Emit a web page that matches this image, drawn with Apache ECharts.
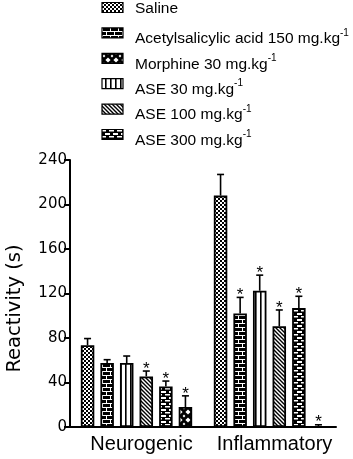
<!DOCTYPE html>
<html>
<head>
<meta charset="utf-8">
<script src="https://cdn.jsdelivr.net/npm/echarts@6/dist/echarts.min.js"></script>
<style>
  html, body { margin: 0; padding: 0; background: #fff; }
  #chart { width: 353px; height: 459px; }
</style>
</head>
<body>
<div id="chart"></div>
<script>
// Reactivity bars, neurogenic vs inflammatory phase; upper SEM bars + "*" for significance.
const CATEGORIES = ["Neurogenic", "Inflammatory"];
const GROUPS = ["Saline", "Acetylsalicylic acid 150 mg.kg", "ASE 30 mg.kg", "ASE 100 mg.kg", "ASE 300 mg.kg", "Morphine 30 mg.kg"];
const SUPS = ["", "-1", "-1", "-1", "-1", "-1"];
const PATTERNS = ["check", "brick", "vlines", "diag", "hbrick", "cross"];
const MEANS = [
  [73.5, 208],
  [57.5, 102],
  [57.5, 122.5],
  [45.5, 90.5],
  [36.5, 107],
  [18, 0],
];
const SEMS = [
  [6, 19],
  [3, 14.5],
  [6.3, 14],
  [4.8, 14.7],
  [4.8, 10.5],
  [10, 2],
];
const SIG = [
  [0, 0],
  [0, 1],
  [0, 1],
  [1, 1],
  [1, 1],
  [1, 1],
];
const LEGEND_ORDER = [0, 1, 5, 2, 3, 4];
const Y_MIN = 0, Y_MAX = 240, Y_STEP = 40;

const BAR_W = 13.5, BAR_GAP = 0.45; // gap as fraction of bar width
const AX_FONT = "DejaVu Sans", LG_FONT = "Liberation Sans";

function tile(kind) {
  const c = document.createElement("canvas");
  const sz = { check: [4, 4], brick: [8, 8], vlines: [5, 4], diag: [4, 4], hbrick: [8, 6], cross: [8, 8] }[kind];
  c.width = sz[0]; c.height = sz[1];
  const g = c.getContext("2d");
  const W = c.width, H = c.height;
  if (kind === "check") {
    g.fillStyle = "#fff"; g.fillRect(0, 0, W, H);
    g.fillStyle = "#000"; g.fillRect(0, 0, 2, 2); g.fillRect(2, 2, 2, 2);
  } else if (kind === "brick") {
    g.fillStyle = "#000"; g.fillRect(0, 0, W, H);
    g.fillStyle = "#fff";
    g.fillRect(0, 3, W, 1); g.fillRect(0, 7, W, 1);
    g.fillRect(2, 0, 1, 3); g.fillRect(6, 4, 1, 3);
  } else if (kind === "vlines") {
    g.fillStyle = "#fff"; g.fillRect(0, 0, W, H);
    g.fillStyle = "#000"; g.fillRect(0, 0, 1.6, H);
  } else if (kind === "diag") {
    g.fillStyle = "#fff"; g.fillRect(0, 0, W, H);
    g.strokeStyle = "#000"; g.lineWidth = 1.4;
    g.beginPath();
    g.moveTo(-1, -1); g.lineTo(W + 1, H + 1);
    g.moveTo(-1, H - 1); g.lineTo(1, H + 1);
    g.moveTo(W - 1, -1); g.lineTo(W + 1, 1);
    g.stroke();
  } else if (kind === "hbrick") {
    g.fillStyle = "#000"; g.fillRect(0, 0, W, H);
    g.fillStyle = "#fff";
    g.fillRect(1, 1, 5, 2);
    g.fillRect(5, 4, 3, 1.5); g.fillRect(0, 4, 2, 1.5);
  } else {
    g.fillStyle = "#000"; g.fillRect(0, 0, W, H);
    g.fillStyle = "#fff";
    const dia = (x, y, r) => { g.beginPath(); g.moveTo(x, y - r); g.lineTo(x + r, y); g.lineTo(x, y + r); g.lineTo(x - r, y); g.closePath(); g.fill(); };
    dia(4, 4, 2.6); dia(0, 0, 1.4); dia(8, 0, 1.4); dia(0, 8, 1.4); dia(8, 8, 1.4);
  }
  return { image: c, repeat: "repeat" };
}
const FILLS = PATTERNS.map(tile);

const n = GROUPS.length;
const pitch = BAR_W * (1 + BAR_GAP);

const barSeries = GROUPS.map((name, i) => ({
  name, type: "bar", barWidth: BAR_W, barGap: BAR_GAP * 100 + "%",
  data: MEANS[i],
  itemStyle: { color: FILLS[i], borderColor: "#000", borderWidth: 1.8 },
  silent: true, z: 2,
}));

const errSeries = GROUPS.map((name, i) => ({
  type: "custom", silent: true, z: 3,
  data: CATEGORIES.map((c, k) => [k, MEANS[i][k], SEMS[i][k], SIG[i][k]]),
  renderItem: (params, api) => {
    const off = (i - (n - 1) / 2) * pitch;
    const base = api.coord([api.value(0), api.value(1)]);
    const tip = api.coord([api.value(0), api.value(1) + api.value(2)]);
    const x = base[0] + off;
    const kids = [
      { type: "line", shape: { x1: x, y1: base[1], x2: x, y2: tip[1] }, style: { stroke: "#000", lineWidth: 1.6 } },
      { type: "line", shape: { x1: x - 3.5, y1: tip[1], x2: x + 3.5, y2: tip[1] }, style: { stroke: "#000", lineWidth: 1.6 } },
    ];
    if (api.value(3)) kids.push({ type: "text", x, y: tip[1] - 2, style: { text: "*", fontSize: 17, fontFamily: LG_FONT, fill: "#000", align: "center", verticalAlign: "middle" } });
    return { type: "group", children: kids };
  },
}));

// legend drawn as graphics so the superscript units sit like the original
const legendItems = [];
LEGEND_ORDER.forEach((gi, r) => {
  const cy = 7.5 + r * 25.4;
  legendItems.push({ type: "rect", shape: { x: 102, y: cy - 5, width: 21, height: 10 }, style: { fill: FILLS[gi], stroke: "#000", lineWidth: 1.2 } });
  const txt = SUPS[gi] ? `{a|${GROUPS[gi]}}{b|${SUPS[gi]}}` : `{a|${GROUPS[gi]}}`;
  legendItems.push({
    type: "text", x: 135, y: cy + (SUPS[gi] ? 6 : 1),
    style: {
      text: txt, verticalAlign: "middle", fill: "#000",
      rich: {
        a: { fontFamily: LG_FONT, fontSize: 15.5, lineHeight: 22, fill: "#000" },
        b: { fontFamily: LG_FONT, fontSize: 10, lineHeight: 10, verticalAlign: "top", fill: "#000" },
      },
    },
  });
});

const chart = echarts.init(document.getElementById("chart"), null, { renderer: "canvas" });
chart.setOption({
  animation: false,
  backgroundColor: "#fff",
  grid: { left: 70, right: 17, top: 160, bottom: 32, containLabel: false, outerBoundsMode: "none" },
  xAxis: {
    type: "category", data: CATEGORIES,
    axisLine: { lineStyle: { color: "#000", width: 2 } },
    axisTick: { show: false },
    axisLabel: { color: "#000", fontFamily: LG_FONT, fontSize: 20, margin: 7, interval: 0, padding: [0, 0, 0, 10] },
  },
  yAxis: {
    type: "value", min: Y_MIN, max: Y_MAX, interval: Y_STEP,
    name: "Reactivity (s)", nameLocation: "middle", nameGap: 45, nameRotate: 90,
    nameTextStyle: { color: "#000", fontFamily: AX_FONT, fontSize: 19.5, padding: [0, 30, 0, 0] },
    axisLine: { show: true, lineStyle: { color: "#000", width: 2 } },
    axisTick: { show: true, length: 6, lineStyle: { color: "#000", width: 2 } },
    axisLabel: { color: "#000", fontFamily: AX_FONT, fontSize: 15, margin: 3 },
    splitLine: { show: false },
  },
  graphic: legendItems,
  series: [...barSeries, ...errSeries],
});
</script>
</body>
</html>
